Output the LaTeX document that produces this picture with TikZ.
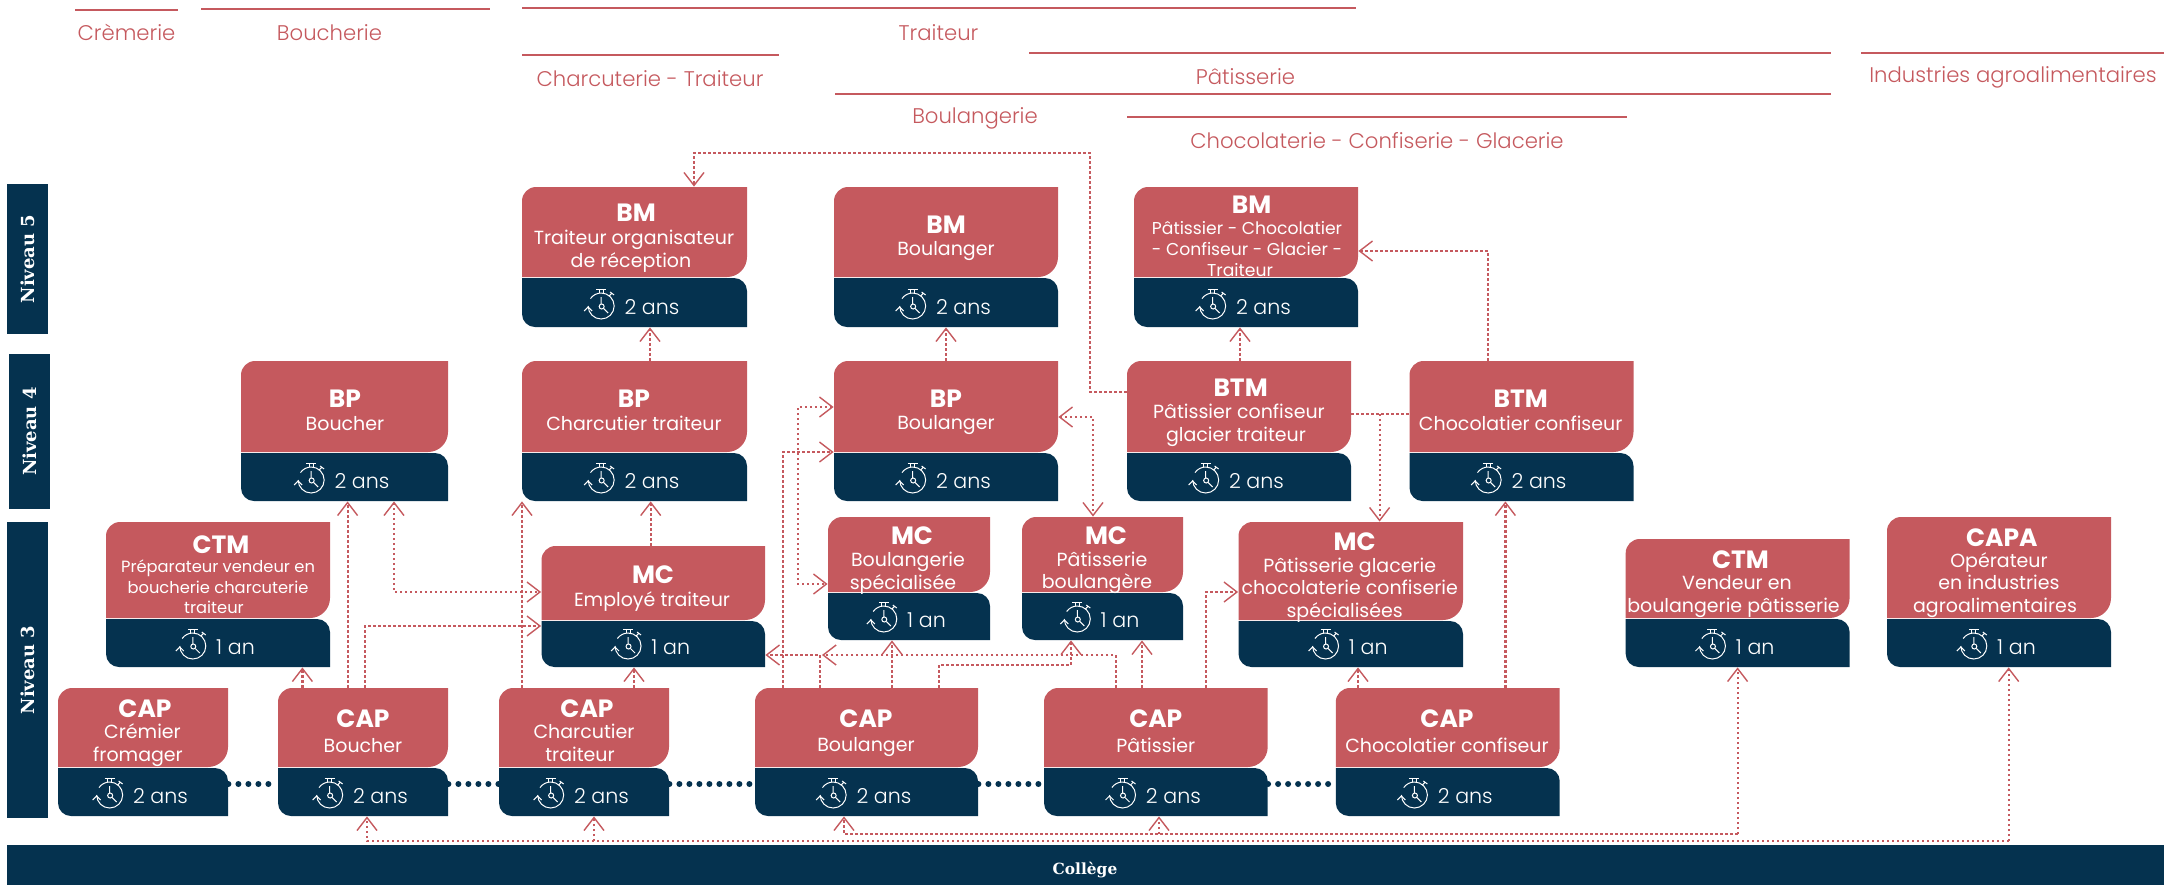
\documentclass[tikz,border=0pt]{standalone}
\usepackage{fontspec}
\setmainfont{Poppins}
\newfontfamily\lightfont{Poppins Light}
\newfontfamily\slabfont{DejaVu Serif}
\usetikzlibrary{arrows.meta,fit}
\definecolor{cardred}{HTML}{C5595E}
\definecolor{cardnavy}{HTML}{05324F}
\newcommand{\bodystrut}{\rule[-2pt]{0pt}{11pt}}
\tikzset{
    stopwatch/.pic={
        \draw [white, line width=0.5pt] (-13,0) arc[start angle=180, end angle=-145, radius=13];
        \draw [white, line width=0.5pt] (-17,5) -- (-13,1) -- (-9,5);
        \draw [white, line width=0.5pt] (-5,-17) -- (5,-17) (-2,-17) -- (-2,-13) (2,-17) -- (2,-13);
        \draw [white, line width=0.5pt] (8,-10) -- (11,-13) (9,-14) -- (13,-11);
        \draw [white, line width=0.5pt] (0,-9) -- (0,-2) (2.5,2.5) -- (7,7);
        \draw [white, line width=0.5pt] (0.5,0.5) circle (2.5);
    }
}
\newcommand{\cardbox}[7]{%
    \fill [cardred] (#2,#5) -- (#2,#4+14) arc[start angle=180, end angle=270, radius=14] -- (#3,#4) -- (#3,#5-20) arc[start angle=0, end angle=90, radius=20] -- cycle;
    \fill [cardnavy] (#2,#5+1) -- (#3-13,#5+1) arc[start angle=-90, end angle=0, radius=13] -- (#3,#6) -- (#2+13,#6) arc[start angle=90, end angle=180, radius=13] -- cycle;
    \node [fit={(#2,#4)(#3,#6)}, inner sep=0pt] (#1) {};
    \node [durtext] (#1-d) at ({(#2+#3)/2+17.5},#6-20) {#7};
    \pic at ([xshift=-11.5pt, yshift=0.5pt]#1-d.west) {stopwatch};
}
\begin{document}
\begin{tikzpicture}[x=0.5pt, y=-0.5pt]
    \tikzstyle{every node}+=[inner sep=0pt]
    \tikzstyle{head}=[text=white, font=\fontsize{12.5}{14}\selectfont\bfseries]
    \tikzstyle{body}=[text=white, align=center, font=\fontsize{9.5}{11.3}\selectfont, execute at begin node=\bodystrut, execute at end node=\bodystrut]
    \tikzstyle{durtext}=[text=white, font=\lightfont\fontsize{10.3}{13}\selectfont]
    \tikzstyle{filiere}=[text=cardred, font=\lightfont\fontsize{10.6}{13}\selectfont]
    \tikzstyle{rule}=[cardred, line width=0.9pt]
    \tikzstyle{bar}=[fill=cardnavy]
    \tikzstyle{bartext}=[text=white, font=\slabfont\fontsize{9}{10}\selectfont\bfseries]
    \tikzstyle{link}=[cardred, line width=1.1pt, dash pattern=on 1.1pt off 1.4pt, >={Straight Barb[length=6.5pt, width=10pt, line width=0.7pt]}]
    \tikzstyle{chain}=[cardnavy, line width=3pt, line cap=round, dash pattern=on 0pt off 5pt]
    \useasboundingbox (0,0) rectangle (2170,885);
    % filieres
    \draw [rule] (75,10) -- (178,10);
    \node [filiere] (cremerie) at (126.5,32) {Crèmerie};
    \draw [rule] (201,9) -- (490,9);
    \node [filiere] (boucherie) at (329.5,33) {Boucherie};
    \draw [rule] (522,8) -- (1356,8);
    \node [filiere] (traiteur) at (938.5,33) {Traiteur};
    \draw [rule] (522,55) -- (779,55);
    \node [filiere] (charcuterie) at (650,79) {Charcuterie - Traiteur};
    \draw [rule] (1029,53) -- (1831,53);
    \node [filiere] (patisserie) at (1245.5,77) {Pâtisserie};
    \draw [rule] (835,94) -- (1831,94);
    \node [filiere] (boulangerie) at (975,118) {Boulangerie};
    \draw [rule] (1127,117) -- (1627,117);
    \node [filiere] (chocolaterie) at (1377,141) {Chocolaterie - Confiserie - Glacerie};
    \draw [rule] (1861,53) -- (2164,53);
    \node [filiere] (industries) at (2013,77) {Industries agroalimentaires};
    % niveaux et college
    \node [bar, fit={(7,184)(48,334)}] (niveaucinq) {};
    \node [bartext, rotate=90] (niveaucinqt) at (niveaucinq) {Niveau 5};
    \node [bar, fit={(9,354)(50,509)}] (niveauquatre) {};
    \node [bartext, rotate=90] (niveauquatret) at (niveauquatre) {Niveau 4};
    \node [bar, fit={(7,522)(48,818)}] (niveautrois) {};
    \node [bartext, rotate=90] (niveautroist) at (niveautrois) {Niveau 3};
    \node [bar, fit={(7,845)(2164,885)}] (college) {};
    \node [bartext, font=\slabfont\fontsize{7.7}{10}\selectfont\bfseries] (colleget) at (1085,870) {Collège};
    % niveau 5
    \cardbox{bmtraiteur}{522}{747}{187}{277}{327}{2 ans}
    \node [head] (bmtraiteurh) at (636,213) {BM};
    \node [body] (bmtraiteurb) at (634,251) {Traiteur organisateur\\de réception\hspace*{3pt}};
    \cardbox{bmboulanger}{834}{1058}{187}{277}{327}{2 ans}
    \node [head] (bmboulangerh) at (946,225) {BM};
    \node [body] (bmboulangerb) at (946,249) {Boulanger};
    \cardbox{bmpatissier}{1134}{1358}{187}{277}{327}{2 ans}
    \node [head] (bmpatissierh) at (1251.7,205) {BM};
    \node [body, font=\fontsize{8.6}{10.5}\selectfont] (bmpatissierb) at (1247,251) {Pâtissier - Chocolatier\\- Confiseur - Glacier -\\Traiteur\hspace*{7pt}};
    % niveau 4
    \cardbox{bpboucher}{241}{448}{361}{452}{501}{2 ans}
    \node [head] (bpboucherh) at (345,399) {BP};
    \node [body] (bpboucherb) at (345,423) {Boucher};
    \cardbox{bpcharcutier}{522}{747}{361}{452}{501}{2 ans}
    \node [head] (bpcharcutierh) at (634,399) {BP};
    \node [body] (bpcharcutierb) at (634,423) {Charcutier traiteur};
    \cardbox{bpboulanger}{834}{1058}{361}{452}{501}{2 ans}
    \node [head] (bpboulangerh) at (946,399) {BP};
    \node [body] (bpboulangerb) at (946,423) {Boulanger};
    \cardbox{btmpatissier}{1127}{1351}{361}{452}{501}{2 ans}
    \node [head] (btmpatissierh) at (1240.6,388) {BTM};
    \node [body] (btmpatissierb) at (1239,425.5) {Pâtissier confiseur\\glacier traiteur\hspace*{3pt}};
    \cardbox{btmchocolatier}{1409.5}{1633.5}{361}{452}{501}{2 ans}
    \node [head] (btmchocolatierh) at (1520.7,399) {BTM};
    \node [body] (btmchocolatierb) at (1520.7,423) {Chocolatier confiseur};
    % niveau 3
    \cardbox{ctmpreparateur}{106}{330}{522}{618}{667}{1 an}
    \node [head] (ctmpreparateurh) at (221,545) {CTM};
    \node [body, font=\fontsize{8.15}{10.3}\selectfont] (ctmpreparateurb) at (218,589) {Préparateur vendeur en\\boucherie charcuterie\\traiteur\hspace*{4pt}};
    \cardbox{mcemploye}{541.5}{765}{546}{620}{667}{1 an}
    \node [head] (mcemployeh) at (653,575) {MC};
    \node [body] (mcemployeb) at (652,600) {Employé traiteur};
    \cardbox{mcboulangerie}{828}{990}{517}{592}{640}{1 an}
    \node [head] (mcboulangerieh) at (912,536) {MC};
    \node [body] (mcboulangerieb) at (908,573) {Boulangerie\\spécialisée\hspace*{5pt}};
    \cardbox{mcpatboul}{1022}{1183}{517}{592}{640}{1 an}
    \node [head] (mcpatboulh) at (1106,536) {MC};
    \node [body] (mcpatboulb) at (1102,573) {Pâtisserie\\boulangère\hspace*{5pt}};
    \cardbox{mcglacerie}{1238.5}{1463}{522}{620}{667}{1 an}
    \node [head] (mcglacerieh) at (1354.6,542) {MC};
    \node [body] (mcglacerieb) at (1349.7,590) {Pâtisserie glacerie\\chocolaterie confiserie\\spécialisées\hspace*{5pt}};
    \cardbox{ctmvendeur}{1625.7}{1849.6}{539}{618}{667}{1 an}
    \node [head] (ctmvendeurh) at (1740.4,560) {CTM};
    \node [body] (ctmvendeurb) at (1737,596.5) {Vendeur en\\boulangerie pâtisserie\hspace*{3.5pt}};
    \cardbox{capa}{1887}{2111}{517}{618}{667}{1 an}
    \node [head] (capah) at (2001.8,538) {CAPA};
    \node [body] (capab) at (1999,585) {Opérateur\\en industries\\agroalimentaires\hspace*{4pt}};
    % cap
    \cardbox{capcremier}{58}{228}{688}{767}{816}{2 ans}
    \node [head] (capcremierh) at (145,709) {CAP};
    \node [body] (capcremierb) at (142.5,745) {Crémier\\fromager\hspace*{4.5pt}};
    \cardbox{capboucher}{278}{448}{688}{767}{816}{2 ans}
    \node [head] (capboucherh) at (363,719) {CAP};
    \node [body] (capboucherb) at (363,745) {Boucher};
    \cardbox{capcharcutier}{499}{669}{688}{767}{816}{2 ans}
    \node [head] (capcharcutierh) at (587,709) {CAP};
    \node [body] (capcharcutierb) at (584,745) {Charcutier\\traiteur\hspace*{4pt}};
    \cardbox{capboulanger}{755}{978}{688}{767}{816}{2 ans}
    \node [head] (capboulangerh) at (866,719) {CAP};
    \node [body] (capboulangerb) at (866,745) {Boulanger};
    \cardbox{cappatissier}{1044}{1267.7}{688}{767}{816}{2 ans}
    \node [head] (cappatissierh) at (1155.8,719) {CAP};
    \node [body] (cappatissierb) at (1155.8,745) {Pâtissier};
    \cardbox{capchocolatier}{1335.8}{1559.7}{688}{767}{816}{2 ans}
    \node [head] (capchocolatierh) at (1447,719) {CAP};
    \node [body] (capchocolatierb) at (1447,745) {Chocolatier confiseur};
    % pointilles entre les cap
    \coordinate (chainy) at (0,784);
    \draw [chain] (capcremier.east |- chainy) -- (capboucher.west |- chainy);
    \draw [chain] (capboucher.east |- chainy) -- (capcharcutier.west |- chainy);
    \draw [chain] (capcharcutier.east |- chainy) -- (capboulanger.west |- chainy);
    \draw [chain] (capboulanger.east |- chainy) -- (cappatissier.west |- chainy);
    \draw [chain] (cappatissier.east |- chainy) -- (capchocolatier.west |- chainy);
    % depuis le college
    \coordinate (busa) at (0,841);
    \coordinate (busb) at (0,834);
    \draw [link, ->] (2008.7,0 |- busa) -- (367,0 |- busa) -- (367,0 |- capboucher.south);
    \draw [link, ->] (2008.7,0 |- busa) -- (2008.7,0 |- capa.south);
    \draw [link, ->] (594,0 |- busa) -- (594,0 |- capcharcutier.south);
    \draw [link, ->] (1737.6,0 |- busb) -- (844,0 |- busb) -- (844,0 |- capboulanger.south);
    \draw [link, ->] (1737.6,0 |- busb) -- (1737.6,0 |- ctmvendeur.south);
    \draw [link, ->] (1159,0 |- busb) -- (1159,0 |- cappatissier.south);
    % boucher, charcutier
    \draw [link, ->] (302.4,0 |- capboucher.north) -- (302.4,0 |- ctmpreparateur.south);
    \draw [link, ->] (347.6,0 |- capboucher.north) -- (347.6,0 |- bpboucher.south);
    \draw [link, ->] (365,0 |- capboucher.north) -- (365,626) -- (mcemploye.west |- 0,626);
    \draw [link, <->] (394,0 |- bpboucher.south) -- (394,592) -- (mcemploye.west |- 0,592);
    \draw [link, ->] (522,0 |- capcharcutier.north) -- (522,0 |- bpcharcutier.south);
    \draw [link, ->] (634,0 |- capcharcutier.north) -- (634,0 |- mcemploye.south);
    \draw [link, ->] (650.7,0 |- mcemploye.north) -- (650.7,0 |- bpcharcutier.south);
    % boulanger
    \draw [link, ->] (783,0 |- capboulanger.north) -- (783,452) -- (bpboulanger.west |- 0,452);
    \draw [link, <->] (bpboulanger.west |- 0,407) -- (798,407) -- (798,584) -- (mcboulangerie.west |- 0,584);
    \draw [link, ->] (820,0 |- capboulanger.north) -- (820,655) -- (mcemploye.east |- 0,655);
    \draw [link, ->] (892,0 |- capboulanger.north) -- (892,0 |- mcboulangerie.south);
    \draw [link, ->] (939,0 |- capboulanger.north) -- (939,665) -- (1071,665) -- (1071,0 |- mcpatboul.south);
    \draw [link, <->] (bpboulanger.east |- 0,417) -- (1093,417) -- (1093,0 |- mcpatboul.north);
    % patissier
    \draw [link, ->] (1115.7,0 |- cappatissier.north) -- (1115.7,655) -- (822,655);
    \draw [link, ->] (1142,0 |- cappatissier.north) -- (1142,0 |- mcpatboul.south);
    \draw [link, ->] (1206,0 |- cappatissier.north) -- (1206,592) -- (mcglacerie.west |- 0,592);
    % chocolatier
    \draw [link, ->] (1358,0 |- capchocolatier.north) -- (1358,0 |- mcglacerie.south);
    \draw [link, ->] (1505.4,0 |- capchocolatier.north) -- (1505.4,0 |- btmchocolatier.south);
    % vers les bm
    \draw [link, ->] (650,0 |- bpcharcutier.north) -- (650,0 |- bmtraiteur.south);
    \draw [link, ->] (946,0 |- bpboulanger.north) -- (946,0 |- bmboulanger.south);
    \draw [link, ->] (1240,0 |- btmpatissier.north) -- (1240,0 |- bmpatissier.south);
    \draw [link, ->] (btmpatissier.west |- 0,392) -- (1090,392) -- (1090,153) -- (694,153) -- (694,0 |- bmtraiteur.north);
    \draw [link, ->] (1488,0 |- btmchocolatier.north) -- (1488,251) -- (bmpatissier.east |- 0,251);
    \draw [link] (btmpatissier.east |- 0,414) -- (btmchocolatier.west |- 0,414);
    \draw [link, ->] (1379.6,414) -- (1379.6,0 |- mcglacerie.north);
\end{tikzpicture}
\end{document}
